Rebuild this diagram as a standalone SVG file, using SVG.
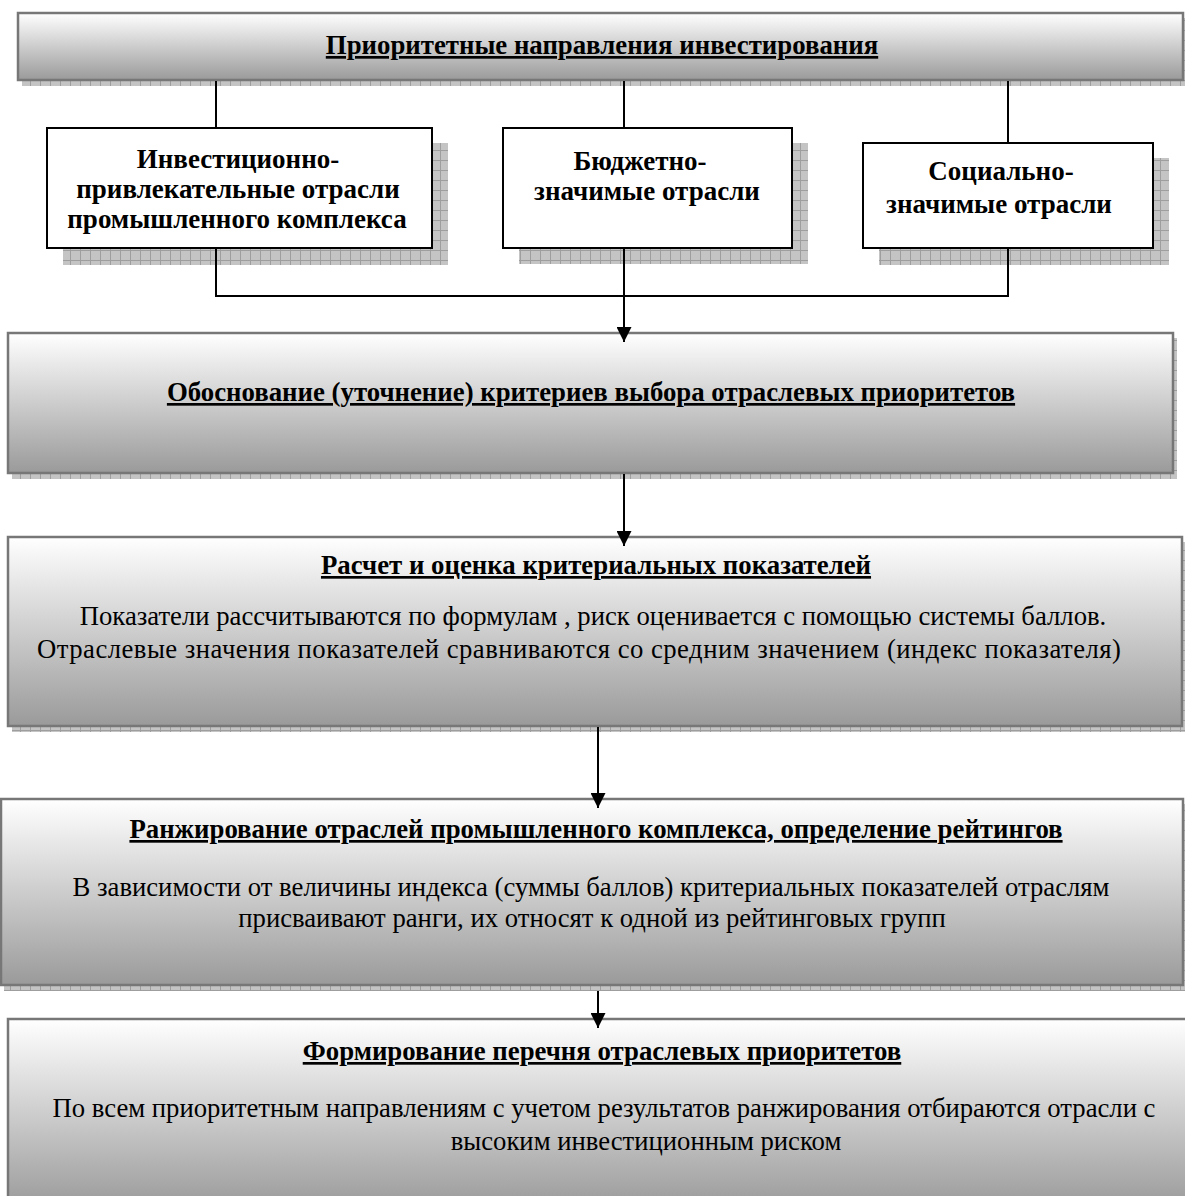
<svg xmlns="http://www.w3.org/2000/svg" width="1185" height="1196" viewBox="0 0 1185 1196">
<style>
.t{font-family:"Liberation Serif","Times New Roman",serif;fill:#000;text-anchor:middle}
.b{font-weight:bold}
.u{text-decoration:underline}
.h{font-size:26.8px}
.n{font-size:26.7px}
.s{font-size:27px}
.gbox{fill:url(#grad);stroke:#777;stroke-width:2.5}
.wbox{fill:#fff;stroke:#000;stroke-width:2}
.shadow{fill:url(#grid)}
.ln{stroke:#000;stroke-width:2;fill:none}
</style>
<defs>
<linearGradient id="grad" x1="0" y1="0" x2="0" y2="1">
<stop offset="0" stop-color="#ffffff"/>
<stop offset="0.35" stop-color="#dcdcdc"/>
<stop offset="1" stop-color="#9a9a9a"/>
</linearGradient>
<pattern id="grid" width="10" height="10" patternUnits="userSpaceOnUse">
<rect width="10" height="10" fill="#c4c4c4"/>
<path d="M0 0.5H10M0.5 0V10" stroke="#9e9e9e" stroke-width="1"/>
</pattern>
<marker id="arr" markerWidth="15" markerHeight="15" refX="15" refY="7.5" orient="auto" markerUnits="userSpaceOnUse">
<path d="M0 0L15 7.5L0 15Z" fill="#000"/>
</marker>
</defs>

<g id="node-top">
<rect class="shadow" x="22" y="18" width="1165" height="68"/>
<rect class="gbox" x="18" y="13" width="1165" height="67"/>
<text class="t b u h" x="602" y="54">Приоритетные направления инвестирования</text>
</g>

<g id="node-invest">
<rect class="shadow" x="63" y="143" width="385" height="122"/>
<rect class="wbox" x="47" y="128" width="385" height="120"/>
<text class="t b s" x="238" y="168">Инвестиционно-</text>
<text class="t b s" x="238" y="198">привлекательные отрасли</text>
<text class="t b s" x="237" y="228">промышленного комплекса</text>
</g>

<g id="node-budget">
<rect class="shadow" x="519" y="143" width="289" height="121"/>
<rect class="wbox" x="503" y="128" width="289" height="120"/>
<text class="t b s" x="640" y="170">Бюджетно-</text>
<text class="t b s" x="647" y="200">значимые отрасли</text>
</g>

<g id="node-social">
<rect class="shadow" x="879" y="158" width="290" height="107"/>
<rect class="wbox" x="863" y="143" width="290" height="105"/>
<text class="t b s" x="1001" y="180">Социально-</text>
<text class="t b s" x="999" y="213">значимые отрасли</text>
</g>

<g id="node-criteria">
<rect class="shadow" x="12" y="338" width="1165" height="141"/>
<rect class="gbox" x="8" y="333" width="1165" height="140"/>
<text class="t b u h" x="591" y="401">Обоснование (уточнение) критериев выбора отраслевых приоритетов</text>
</g>

<g id="node-calc">
<rect class="shadow" x="12" y="542" width="1174" height="190"/>
<rect class="gbox" x="8" y="537" width="1174" height="189"/>
<text class="t b u h" x="596" y="574">Расчет и оценка критериальных показателей</text>
<text class="t n" x="593" y="625">Показатели рассчитываются по формулам , риск оценивается с помощью системы баллов.</text>
<text class="t n" x="579" y="658" textLength="1084" lengthAdjust="spacing">Отраслевые значения показателей сравниваются со средним значением (индекс показателя)</text>
</g>

<g id="node-rank">
<rect class="shadow" x="4" y="804" width="1183" height="187"/>
<rect class="gbox" x="1" y="799" width="1182" height="186"/>
<text class="t b u h" x="596" y="838">Ранжирование отраслей промышленного комплекса, определение рейтингов</text>
<text class="t n" x="591" y="896">В зависимости от величины индекса (суммы баллов) критериальных показателей отраслям</text>
<text class="t n" x="592" y="927">присваивают ранги, их относят к одной из рейтинговых групп</text>
</g>

<g id="node-form">
<rect class="gbox" x="8" y="1019" width="1190" height="190"/>
<text class="t b u h" x="602" y="1060">Формирование перечня отраслевых приоритетов</text>
<text class="t n" x="604" y="1117">По всем приоритетным направлениям с учетом результатов ранжирования отбираются отрасли с</text>
<text class="t n" x="646" y="1150">высоким инвестиционным риском</text>
</g>

<g id="connectors">
<line class="ln" x1="216" y1="81" x2="216" y2="128"/>
<line class="ln" x1="624" y1="81" x2="624" y2="128"/>
<line class="ln" x1="1008" y1="81" x2="1008" y2="143"/>
<polyline class="ln" points="216,248 216,296 1008,296 1008,248"/>
<line class="ln" x1="624" y1="248" x2="624" y2="342" marker-end="url(#arr)"/>
<line class="ln" x1="624" y1="474" x2="624" y2="546" marker-end="url(#arr)"/>
<line class="ln" x1="598" y1="727" x2="598" y2="808" marker-end="url(#arr)"/>
<line class="ln" x1="598" y1="991" x2="598" y2="1028" marker-end="url(#arr)"/>
</g>
</svg>
